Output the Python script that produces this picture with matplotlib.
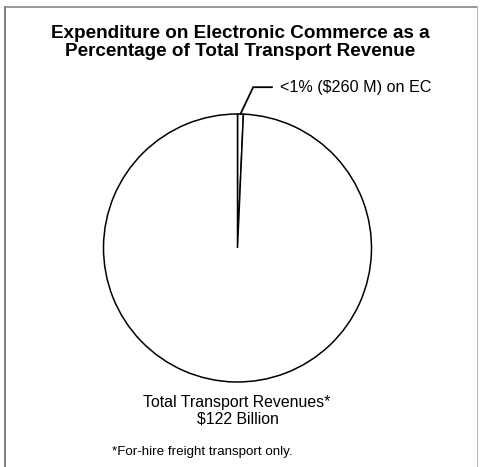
import numpy as np
import matplotlib
matplotlib.use("Agg")
import matplotlib.pyplot as plt

# ---- data ----
labels = ["EC", "Other"]
shares = [0.7, 99.3]          # percent of total transport revenue (as drawn)
ec_label = "<1% ($260 M) on EC"
total_label = ["Total Transport Revenues*", "$122 Billion"]
title_lines = ["Expenditure on Electronic Commerce as a",
               "Percentage of Total Transport Revenue"]
footnote = "*For-hire freight transport only."

W, H = 484, 467
plt.rcParams['font.family'] = ['Liberation Sans', 'DejaVu Sans']
fig = plt.figure(figsize=(W / 100, H / 100), dpi=100)
fig.patch.set_facecolor("white")

# overlay axes in pixel coordinates
ax0 = fig.add_axes([0, 0, 1, 1])
ax0.set_xlim(0, W)
ax0.set_ylim(H, 0)
ax0.axis("off")

# frame (left, top, right)
ax0.plot([5, 5], [H + 5, 6.5], color="#666666", lw=1.2)
ax0.plot([5, 477], [6.5, 6.5], color="#888888", lw=1.2)
ax0.plot([477, 477], [6.5, H + 5], color="#bbbbbb", lw=0.8)

# title
ax0.text(240, 33, title_lines[0], ha="center", va="center",
         fontsize=13.6, fontweight="bold")
ax0.text(240, 52, title_lines[1], ha="center", va="center",
         fontsize=13.6, fontweight="bold")

# pie axes
cx, cy, r = 237.5, 248, 134
axp = fig.add_axes([(cx - r) / W, (H - cy - r) / H, 2 * r / W, 2 * r / H])
wedges, _ = axp.pie(shares, startangle=90, counterclock=False,
                    colors=["white", "white"],
                    wedgeprops=dict(edgecolor="black", linewidth=1.1))
axp.set_xlim(-1, 1)
axp.set_ylim(-1, 1)
axp.axis("off")

# leader line from EC slice
w = wedges[0]
mid = np.deg2rad((w.theta1 + w.theta2) / 2)
px, py = np.cos(mid), np.sin(mid)
elbow = (px + 0.095, 1.20)
end = (px + 0.235, 1.20)
axp.plot([px, elbow[0], end[0]], [py, elbow[1], end[1]], color="black",
         lw=1.3, clip_on=False, solid_joinstyle="miter")
axp.text(end[0] + 0.06, 1.20, ec_label, ha="left", va="center",
         fontsize=11.6, clip_on=False)

# bottom labels
ax0.text(237, 402, total_label[0], ha="center", va="center", fontsize=11.45)
ax0.text(237.5, 419, total_label[1], ha="center", va="center", fontsize=11.45)
ax0.text(112, 452, footnote, ha="left", va="center", fontsize=9.6)

fig.savefig("out.png", dpi=100, facecolor="white")
